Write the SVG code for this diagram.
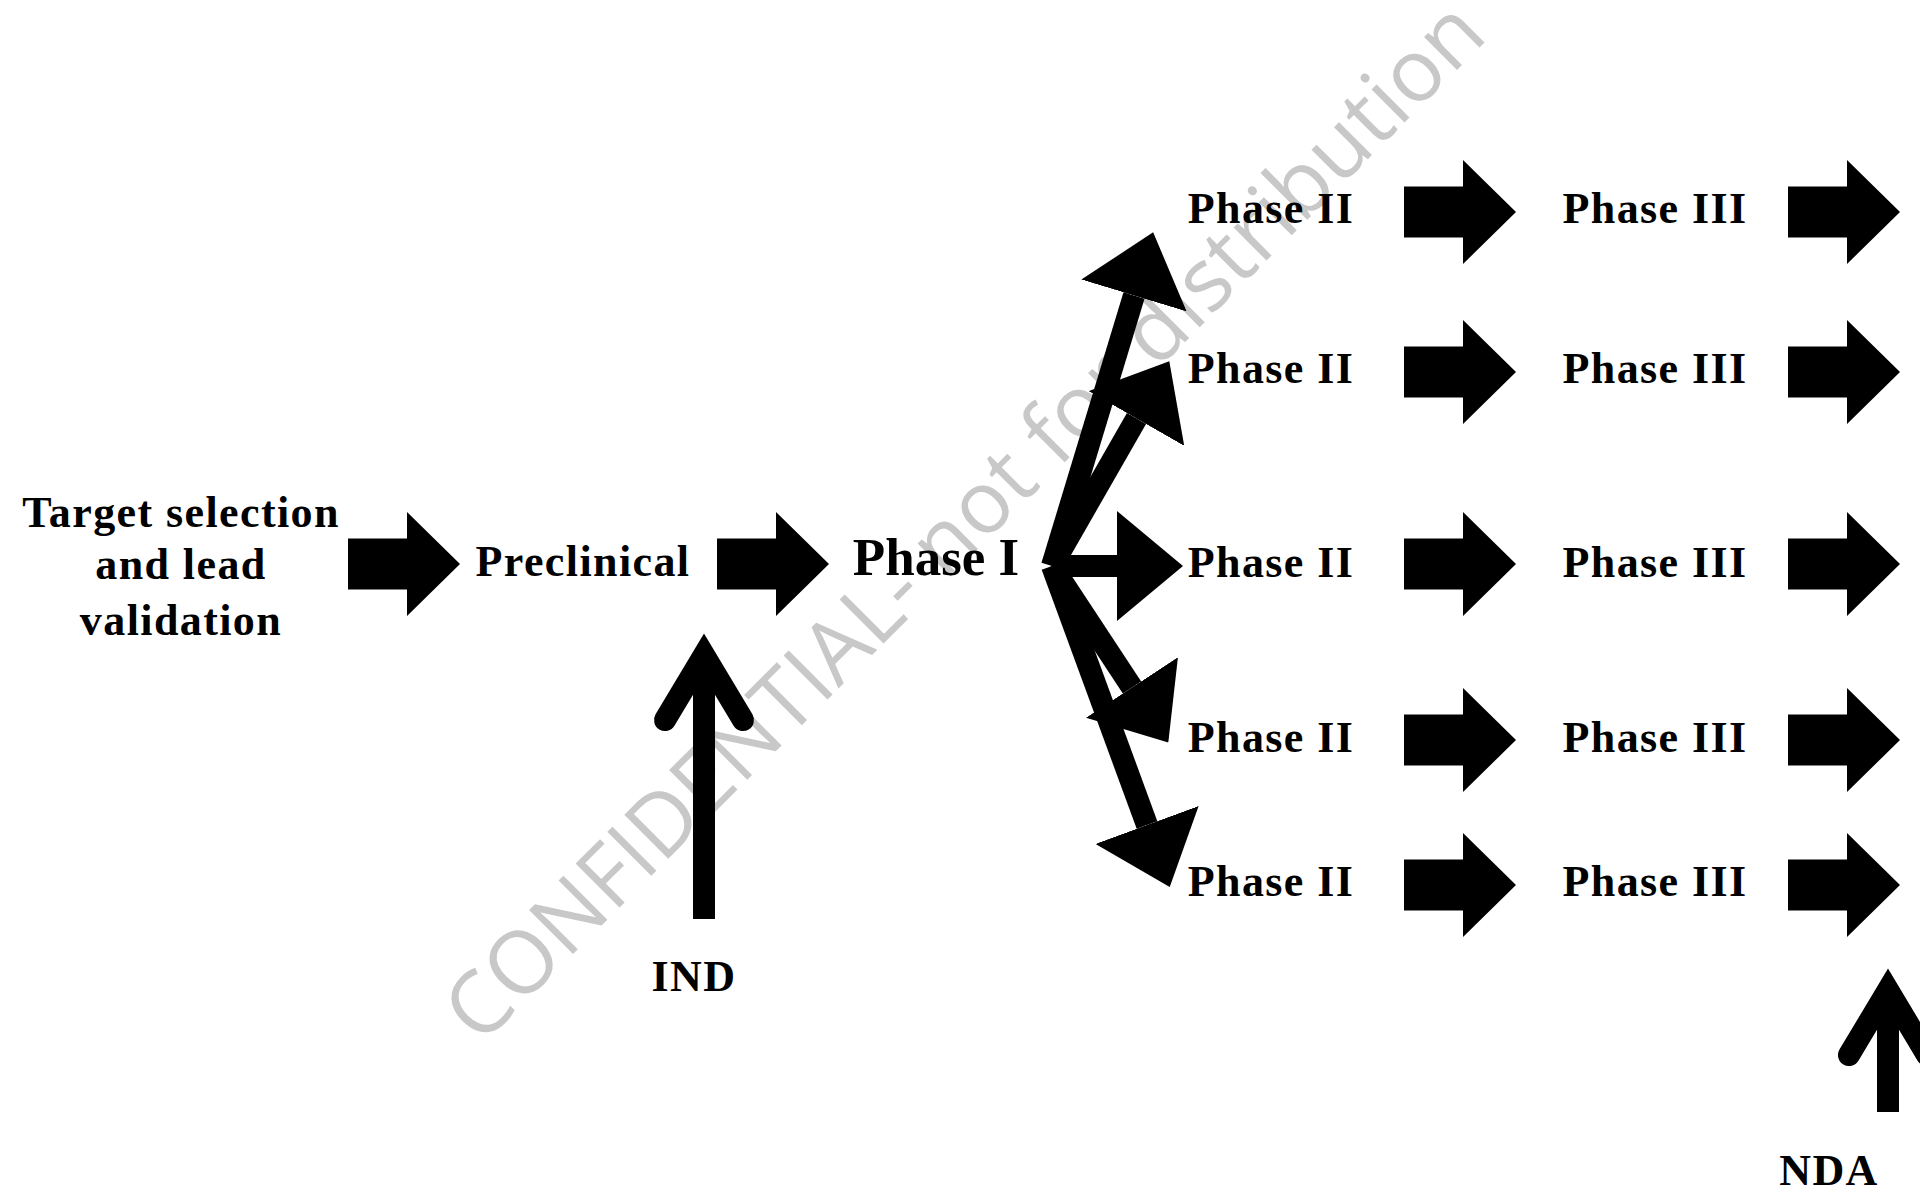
<svg xmlns="http://www.w3.org/2000/svg" width="1920" height="1190" viewBox="0 0 1920 1190">
  <style>
    .lbl { font-family: "Liberation Serif", "Times New Roman", serif; font-weight: bold; font-size: 44px; letter-spacing: 1.4px; fill: #000; text-anchor: middle; }
    .big { font-size: 53px; letter-spacing: 0; }
    .block { fill: #000; }
    .shaft { stroke: #000; stroke-width: 22; fill: none; }
    .chev { stroke: #000; stroke-width: 22; fill: none; stroke-linecap: round; stroke-linejoin: miter; stroke-miterlimit: 10; }
    .mark { font-family: "Open Sans", "DejaVu Sans", sans-serif; font-size: 87px; fill: #c8c8c8; text-anchor: middle; }
  </style>
  <defs>
    <!-- wide block arrow, origin at the middle of its flat back end -->
    <polygon id="blockArrow" class="block" points="0,-25.5 59,-25.5 59,-52 112,0 59,52 59,25.5 0,25.5"/>
    <!-- large triangular head for the branching lines -->
    <marker id="head" markerUnits="userSpaceOnUse" viewBox="0 0 66 110" refX="0" refY="55" markerWidth="66" markerHeight="110" orient="auto">
      <path d="M0,0 L66,55 L0,110 Z" fill="#000"/>
    </marker>
  </defs>

  <rect width="1920" height="1190" fill="#fff"/>

  <!-- watermark -->
  <text class="mark" x="985" y="542" transform="rotate(-45 985 542)">CONFIDENTIAL- not for distribution</text>

  <g id="connectors">
    <!-- main pipeline -->
    <use href="#blockArrow" x="348" y="564"/>
    <use href="#blockArrow" x="717" y="564"/>

    <!-- branches out of Phase I -->
    <line class="shaft" x1="1052" y1="566" x2="1134" y2="295.5" marker-end="url(#head)"/>
    <line class="shaft" x1="1052" y1="566" x2="1136.5" y2="418.5" marker-end="url(#head)"/>
    <line class="shaft" x1="1052" y1="566" x2="1117" y2="566" marker-end="url(#head)"/>
    <line class="shaft" x1="1052" y1="566" x2="1132" y2="687.5" marker-end="url(#head)"/>
    <line class="shaft" x1="1052" y1="566" x2="1147" y2="825" marker-end="url(#head)"/>

    <!-- Phase II to Phase III -->
    <use href="#blockArrow" x="1404" y="212"/>
    <use href="#blockArrow" x="1404" y="372"/>
    <use href="#blockArrow" x="1404" y="564"/>
    <use href="#blockArrow" x="1404" y="740"/>
    <use href="#blockArrow" x="1404" y="885"/>

    <!-- Phase III onward -->
    <use href="#blockArrow" x="1788" y="212"/>
    <use href="#blockArrow" x="1788" y="372"/>
    <use href="#blockArrow" x="1788" y="564"/>
    <use href="#blockArrow" x="1788" y="740"/>
    <use href="#blockArrow" x="1788" y="885"/>

    <!-- IND filing arrow -->
    <g id="ind-arrow">
      <line class="shaft" x1="704" y1="655" x2="704" y2="919"/>
      <polyline class="chev" points="665,720 704,655 743,720"/>
    </g>

    <!-- NDA filing arrow -->
    <g id="nda-arrow">
      <line class="shaft" x1="1888" y1="990" x2="1888" y2="1112"/>
      <polyline class="chev" points="1849,1055 1888,990 1927,1055"/>
    </g>
  </g>

  <g id="target">
    <text class="lbl" x="181" y="527">Target selection</text>
    <text class="lbl" x="181" y="579">and lead</text>
    <text class="lbl" x="181" y="635">validation</text>
  </g>
  <g id="preclinical"><text class="lbl" x="583" y="576">Preclinical</text></g>
  <g id="phase1"><text class="lbl big" x="936" y="575">Phase I</text></g>

  <g id="phase2-a"><text class="lbl" x="1271" y="223">Phase II</text></g>
  <g id="phase2-b"><text class="lbl" x="1271" y="383">Phase II</text></g>
  <g id="phase2-c"><text class="lbl" x="1271" y="577">Phase II</text></g>
  <g id="phase2-d"><text class="lbl" x="1271" y="752">Phase II</text></g>
  <g id="phase2-e"><text class="lbl" x="1271" y="896">Phase II</text></g>

  <g id="phase3-a"><text class="lbl" x="1655" y="223">Phase III</text></g>
  <g id="phase3-b"><text class="lbl" x="1655" y="383">Phase III</text></g>
  <g id="phase3-c"><text class="lbl" x="1655" y="577">Phase III</text></g>
  <g id="phase3-d"><text class="lbl" x="1655" y="752">Phase III</text></g>
  <g id="phase3-e"><text class="lbl" x="1655" y="896">Phase III</text></g>

  <g id="ind"><text class="lbl" x="694" y="991">IND</text></g>
  <g id="nda"><text class="lbl" x="1829" y="1185">NDA</text></g>
</svg>
